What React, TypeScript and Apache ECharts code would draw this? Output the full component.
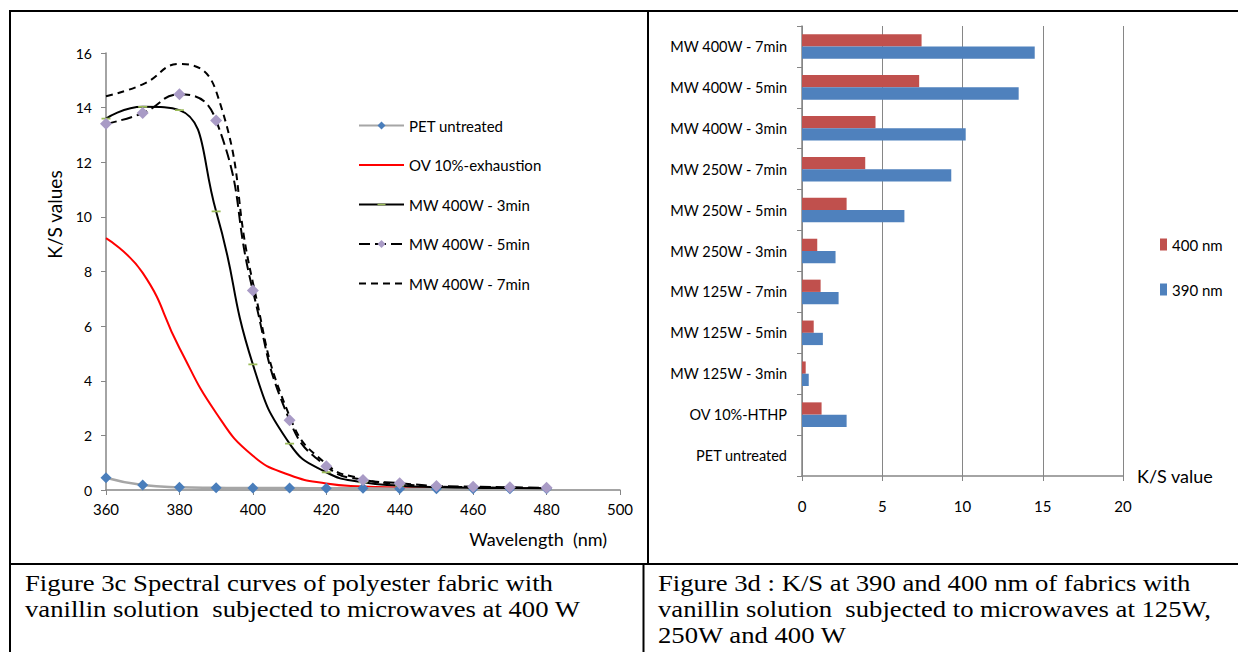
import React, { useEffect, useRef } from "react";
import * as echarts from "echarts";

// ---- Figure 3c data (K/S vs wavelength) ----
const wavelengths = [360, 370, 380, 390, 400, 410, 420, 430, 440, 450, 460, 470, 480];
const petUntreated = [0.45, 0.18, 0.1, 0.08, 0.07, 0.07, 0.06, 0.06, 0.05, 0.05, 0.05, 0.05, 0.05];
const ovExhaustion = [9.22, 7.95, 5.2, 2.82, 1.25, 0.55, 0.24, 0.13, 0.09, 0.07, 0.06, 0.05, 0.05];
const mw400w3 = [13.6, 14.03, 13.91, 10.2, 4.6, 1.7, 0.65, 0.28, 0.16, 0.11, 0.08, 0.07, 0.06];
const mw400w5 = [13.41, 13.8, 14.49, 13.53, 7.3, 2.55, 0.87, 0.37, 0.25, 0.15, 0.12, 0.1, 0.08];
const mw400w7 = [14.42, 14.85, 15.6, 14.6, 7.6, 2.7, 0.95, 0.4, 0.22, 0.13, 0.1, 0.08, 0.07];
const lineNames = ["PET untreated", "OV 10%-exhaustion", "MW 400W - 3min", "MW 400W - 5min", "MW 400W - 7min"];

// ---- Figure 3d data (K/S at 390 / 400 nm) ----
const categories = [
  "MW 400W - 7min",
  "MW 400W - 5min",
  "MW 400W - 3min",
  "MW 250W - 7min",
  "MW 250W - 5min",
  "MW 250W - 3min",
  "MW 125W - 7min",
  "MW 125W - 5min",
  "MW 125W - 3min",
  "OV 10%-HTHP",
  "PET untreated",
];
const ks400 = [7.45, 7.3, 4.58, 3.94, 2.78, 0.95, 1.16, 0.73, 0.23, 1.22, 0];
const ks390 = [14.5, 13.5, 10.2, 9.3, 6.38, 2.09, 2.28, 1.3, 0.42, 2.78, 0];
const barNames = ["400 nm", "390 nm"];

const caption3c = "Figure 3c Spectral curves of polyester fabric with\nvanillin solution  subjected to microwaves at 400 W";
const caption3d = "Figure 3d : K/S at 390 and 400 nm of fabrics with\nvanillin solution  subjected to microwaves at 125W,\n250W and 400 W";

const FONT = "Lato, 'Open Sans', sans-serif";
const AXIS_GRAY = "#868686";
// a thin horizontal dash centred inside a square bounding box
const DASH_SYMBOL = "path://M0,0L0.01,0L0.01,0.01Z M0,3.6L9,3.6L9,5.4L0,5.4Z M8.99,8.99L9,8.99L9,9Z";

const zip = (xs: number[], ys: number[]) => xs.map((x, i) => [x, ys[i]]);

export default function App() {
  const ref = useRef<HTMLDivElement>(null);

  useEffect(() => {
    if (!ref.current) return;
    const chart = echarts.init(ref.current, undefined, { renderer: "svg" });

    const border = (x1: number, y1: number, x2: number, y2: number) => ({
      type: "line",
      shape: { x1, y1, x2, y2 },
      style: { stroke: "#000", lineWidth: 2 },
      silent: true,
    });

    const option: any = {
      animation: false,
      backgroundColor: "#fff",
      textStyle: { fontFamily: FONT },
      grid: [
        { left: 106, right: 618, top: 53, bottom: 162 },
        { left: 802, right: 115, top: 26, bottom: 176 },
      ],
      legend: [
        {
          data: [
            { name: lineNames[0] },
            { name: lineNames[1], itemStyle: { opacity: 0 } },
            { name: lineNames[2] },
            { name: lineNames[3] },
            { name: lineNames[4], itemStyle: { opacity: 0 } },
          ],
          orient: "vertical",
          left: 353,
          top: 113,
          itemWidth: 45,
          itemHeight: 10,
          itemGap: 24.5,
          textStyle: { fontFamily: FONT, fontSize: 15, color: "#000" },
        },
        {
          data: barNames,
          orient: "vertical",
          left: 1155,
          top: 232,
          itemWidth: 7,
          itemHeight: 12,
          icon: "rect",
          itemGap: 30,
          textStyle: { fontFamily: FONT, fontSize: 15, color: "#000" },
        },
      ],
      xAxis: [
        {
          gridIndex: 0,
          type: "value",
          min: 360,
          max: 500,
          interval: 20,
          name: "Wavelength  (nm)",
          nameLocation: "end",
          nameGap: -13,
          nameTextStyle: {
            fontFamily: FONT,
            fontSize: 18,
            color: "#000",
            align: "right",
            verticalAlign: "top",
            padding: [40, 0, 0, 0],
          },
          axisLine: { show: true, lineStyle: { color: AXIS_GRAY, width: 1.5 } },
          axisTick: { show: true, length: 5, lineStyle: { color: AXIS_GRAY } },
          axisLabel: { fontFamily: FONT, fontSize: 15, color: "#000", margin: 11 },
          splitLine: { show: false },
        },
        {
          gridIndex: 1,
          type: "value",
          min: 0,
          max: 20,
          interval: 5,
          name: "K/S value",
          nameLocation: "end",
          nameGap: 14,
          nameTextStyle: { fontFamily: FONT, fontSize: 18, color: "#000" },
          axisLine: { show: true, lineStyle: { color: AXIS_GRAY, width: 1.5 } },
          axisTick: { show: true, length: 5, lineStyle: { color: AXIS_GRAY } },
          axisLabel: { fontFamily: FONT, fontSize: 15, color: "#000", margin: 22 },
          splitLine: { show: true, lineStyle: { color: AXIS_GRAY, width: 1 } },
        },
      ],
      yAxis: [
        {
          gridIndex: 0,
          type: "value",
          min: 0,
          max: 16,
          interval: 2,
          name: "K/S values",
          nameLocation: "middle",
          nameGap: 42,
          nameRotate: 90,
          nameTextStyle: { fontFamily: FONT, fontSize: 19, color: "#000", padding: [0, 0, 0, 114] },
          axisLine: { show: true, lineStyle: { color: AXIS_GRAY, width: 1.5 } },
          axisTick: { show: true, length: 5, lineStyle: { color: AXIS_GRAY } },
          axisLabel: { fontFamily: FONT, fontSize: 14, color: "#000", margin: 14 },
          splitLine: { show: false },
        },
        {
          gridIndex: 1,
          type: "category",
          inverse: true,
          data: categories,
          axisLine: { show: true, lineStyle: { color: AXIS_GRAY, width: 1.5 } },
          axisTick: { show: true, length: 5, lineStyle: { color: AXIS_GRAY } },
          axisLabel: { fontFamily: FONT, fontSize: 14.5, color: "#000", margin: 15 },
          splitLine: { show: false },
        },
      ],
      series: [
        {
          name: lineNames[0],
          type: "line",
          xAxisIndex: 0,
          yAxisIndex: 0,
          smooth: true,
          data: zip(wavelengths, petUntreated),
          lineStyle: { color: "#A6A6A6", width: 2.5 },
          symbol: "diamond",
          symbolSize: 11,
          itemStyle: { color: "#4A7EBB" },
          z: 3,
        },
        {
          name: lineNames[1],
          type: "line",
          xAxisIndex: 0,
          yAxisIndex: 0,
          smooth: true,
          data: zip(wavelengths, ovExhaustion),
          lineStyle: { color: "#FF0000", width: 2 },
          itemStyle: { color: "#FF0000" },
          symbol: "none",
          z: 2,
        },
        {
          name: lineNames[2],
          type: "line",
          xAxisIndex: 0,
          yAxisIndex: 0,
          smooth: true,
          data: zip(wavelengths, mw400w3),
          lineStyle: { color: "#000", width: 2 },
          symbol: DASH_SYMBOL,
          symbolSize: 9,
          itemStyle: { color: "#9BBB59" },
          z: 4,
        },
        {
          name: lineNames[3],
          type: "line",
          xAxisIndex: 0,
          yAxisIndex: 0,
          smooth: true,
          data: zip(wavelengths, mw400w5),
          lineStyle: { color: "#000", width: 2, type: [11, 5] },
          symbol: "diamond",
          symbolSize: 12,
          itemStyle: { color: "#A99BC6" },
          z: 5,
        },
        {
          name: lineNames[4],
          type: "line",
          xAxisIndex: 0,
          yAxisIndex: 0,
          smooth: true,
          data: zip(wavelengths, mw400w7),
          lineStyle: { color: "#000", width: 2, type: [7, 5] },
          itemStyle: { color: "#000" },
          symbol: "none",
          z: 4,
        },
        {
          name: barNames[0],
          type: "bar",
          xAxisIndex: 1,
          yAxisIndex: 1,
          data: ks400,
          barGap: "0%",
          barCategoryGap: "40%",
          itemStyle: { color: "#C0504D" },
        },
        {
          name: barNames[1],
          type: "bar",
          xAxisIndex: 1,
          yAxisIndex: 1,
          data: ks390,
          barGap: "0%",
          barCategoryGap: "40%",
          itemStyle: { color: "#4F81BD" },
        },
      ],
      graphic: [
        border(9, 11, 1238, 11),
        border(10, 10, 10, 652),
        border(648, 11, 648, 564),
        border(9, 564, 1238, 564),
        border(643.5, 564, 643.5, 652),
        {
          type: "text",
          x: 25,
          y: 570,
          scaleX: 1.16,
          silent: true,
          style: {
            text: caption3c,
            font: "23px 'Liberation Serif', 'Times New Roman', serif",
            lineHeight: 26,
            fill: "#000",
            verticalAlign: "top",
          },
        },
        {
          type: "text",
          x: 658,
          y: 570,
          scaleX: 1.16,
          silent: true,
          style: {
            text: caption3d,
            font: "23px 'Liberation Serif', 'Times New Roman', serif",
            lineHeight: 26,
            fill: "#000",
            verticalAlign: "top",
          },
        },
      ],
    };

    chart.setOption(option);
    return () => chart.dispose();
  }, []);

  return (
    <div
      ref={ref}
      style={{ position: "absolute", left: 0, top: 0, width: 1238, height: 652, background: "#fff" }}
    />
  );
}
